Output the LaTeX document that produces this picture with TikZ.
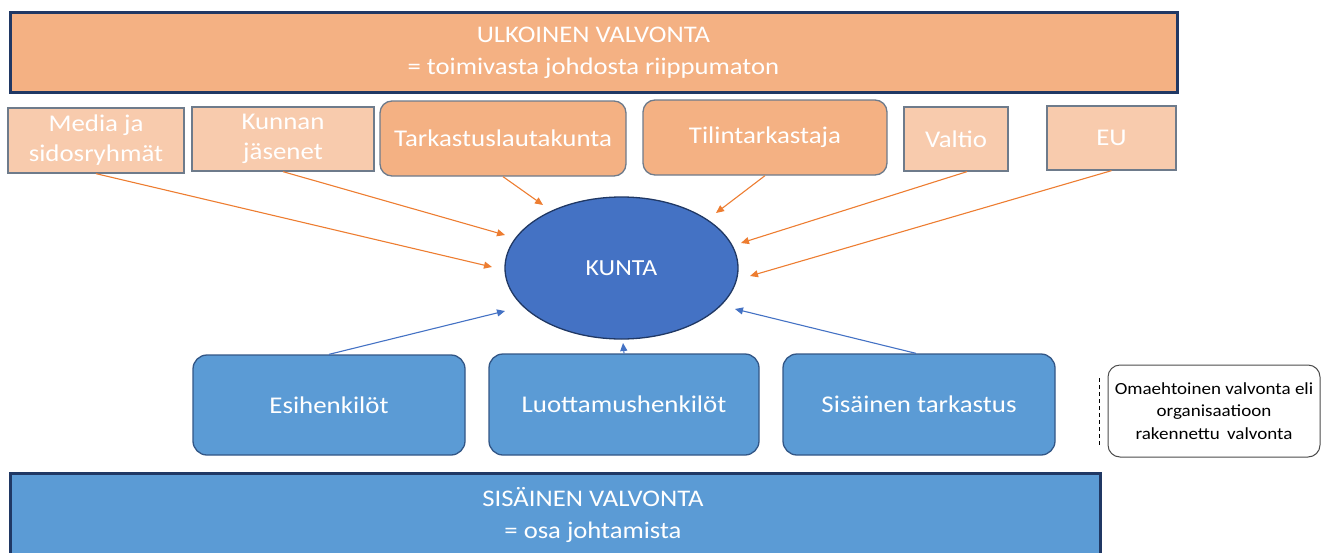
\documentclass[tikz,border=0pt]{standalone}
\usepackage{fontspec}
\setmainfont{Carlito}[FakeStretch=1.12]
\usetikzlibrary{arrows.meta,shapes.geometric}
\definecolor{orangeDark}{HTML}{F4B183}
\definecolor{orangeLight}{HTML}{F8CBAD}
\definecolor{blueBox}{HTML}{5B9BD5}
\definecolor{blueEll}{HTML}{4472C4}
\definecolor{navy}{HTML}{203864}
\definecolor{edgeGray}{HTML}{6E7B8B}
\definecolor{arrOrange}{HTML}{ED7D31}
\definecolor{arrBlue}{HTML}{4472C4}
\tikzset{
  bigbox/.style={draw=navy, line width=3pt, inner sep=0pt},
  lightbox/.style={draw=edgeGray, line width=1.3pt, fill=orangeLight, text=white, inner sep=0pt, align=center,
    font=\fontsize{24}{30}\selectfont},
  roundorange/.style={draw=edgeGray, line width=1.3pt, fill=orangeDark, text=white, inner sep=0pt, align=center,
    rounded corners=12pt, font=\fontsize{24}{30}\selectfont},
  roundblue/.style={draw=navy!70!blueBox, line width=1.3pt, fill=blueBox, text=white, inner sep=0pt, align=center,
    rounded corners=14pt, font=\fontsize{24}{30}\selectfont},
  notebox/.style={draw=black!70, line width=1pt, fill=white, text=black, inner sep=0pt, align=center,
    rounded corners=12pt, font=\fontsize{17}{22.5}\selectfont},
  oarrow/.style={draw=arrOrange, line width=1.1pt, -{Triangle[length=8pt,width=7pt]}},
  barrow/.style={draw=arrBlue, line width=1.1pt, -{Triangle[length=8pt,width=7pt]}},
  titletext/.style={text=white, align=center, font=\fontsize{23.8}{32}\selectfont, inner sep=0pt}
}
\begin{document}
\begin{tikzpicture}[x=1pt,y=-1pt]
\useasboundingbox (0,0) rectangle (1323,552);
\clip (0,0) rectangle (1323,552);
% top big box
\node[bigbox, fill=orangeDark, minimum width=1167pt, minimum height=80pt] (top) at (593.5,52) {};
\node[titletext] (toptext) at (593.5,53) {ULKOINEN VALVONTA\\= toimivasta johdosta riippumaton};
% bottom big box
\node[bigbox, fill=blueBox, minimum width=1090pt, minimum height=100pt] (bottom) at (555,523) {};
\node[titletext] (bottomtext) at (593,515) {SISÄINEN VALVONTA\\= osa johtamista};
% top row
\node[lightbox, minimum width=176pt, minimum height=65pt] (media) at (96,140.5) {Media ja\\sidosryhmät};
\node[lightbox, minimum width=182pt, minimum height=64pt] (kunnan) at (283,139) {Kunnan\\jäsenet};
\node[roundorange, minimum width=246pt, minimum height=75pt] (tark) at (503,138.5) {Tarkastuslautakunta};
\node[roundorange, minimum width=244pt, minimum height=75pt] (tili) at (765,137.5) {Tilintarkastaja};
\node[lightbox, minimum width=104pt, minimum height=64pt] (valtio) at (956,139) {Valtio};
\node[lightbox, minimum width=129pt, minimum height=64pt] (eu) at (1111.5,138) {EU};
% ellipse
\node[ellipse, draw=navy, line width=1.3pt, fill=blueEll, text=white, minimum width=233pt, minimum height=142pt,
  inner sep=0pt, font=\fontsize{23}{29}\selectfont] (kunta) at (621.5,268) {KUNTA};
% bottom row
\node[roundblue, minimum width=272pt, minimum height=100pt] (esi) at (329,405) {Esihenkilöt};
\node[roundblue, minimum width=270pt, minimum height=101pt] (luot) at (624,404.5) {Luottamushenkilöt};
\node[roundblue, minimum width=272pt, minimum height=101pt] (sis) at (919,404.5) {Sisäinen tarkastus};
% note
\node[notebox, minimum width=212pt, minimum height=92pt] (note) at (1214,411) {Omaehtoinen valvonta eli\\organisaatioon\\rakennettu\, valvonta};
\coordinate (dashA) at (1099,378);
\coordinate (dashB) at (1099,445);
\draw[black, line width=1pt, dash pattern=on 4pt off 3pt] (dashA) -- (dashB);
% arrow tips
\coordinate (tMedia) at (492,267);
\coordinate (tKunnan) at (505,235);
\coordinate (tTark) at (543,205);
\coordinate (tTili) at (716,213);
\coordinate (tValtio) at (741,243);
\coordinate (tEU) at (750,276);
\coordinate (tEsi) at (505,311);
\coordinate (tLuot) at (623,343);
\coordinate (tSis) at (735,309);
\draw[oarrow] (media.south) -- (tMedia);
\draw[oarrow] (kunnan.south) -- (tKunnan);
\draw[oarrow] (tark.south) -- (tTark);
\draw[oarrow] (tili.south) -- (tTili);
\draw[oarrow] ([xshift=11pt]valtio.south) -- (tValtio);
\draw[oarrow] (eu.south) -- (tEU);
\draw[barrow] (esi.north) -- (tEsi);
\draw[barrow] (luot.north) -- (tLuot);
\draw[barrow] ([xshift=-3pt]sis.north) -- (tSis);
\end{tikzpicture}
\end{document}
